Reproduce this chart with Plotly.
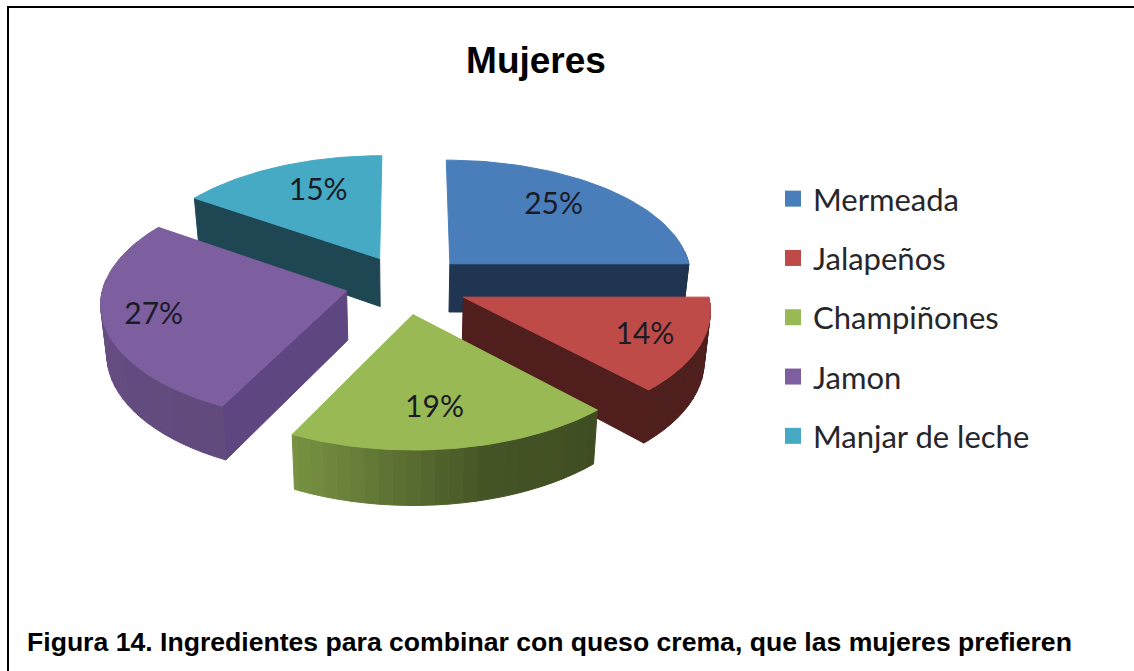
import numpy as np
import plotly.graph_objects as go

# --- data ---
categories = ["Mermeada", "Jalapeños", "Champiñones", "Jamon", "Manjar de leche"]
values = [25, 14, 19, 27, 15]
title_text = "Mujeres"
caption_text = "Figura 14. Ingredientes para combinar con queso crema, que las mujeres prefieren"

# --- styles ---
top_colors = ["#4A7EBB", "#BE4B48", "#98B954", "#7D5FA0", "#46AAC4"]
cut_colors = ["#1F3552", "#501E1D", "#3F4F22", "#5E4680", "#1E4653"]
legend_colors = ["#4A7EBB", "#BE4B48", "#98B954", "#7D5FA0", "#46AAC4"]
draw_order = [4, 0, 3, 1, 2]
label_nudge = [(0, -7), (32, 5), (5, 10), (-35, 9), (4, -4)]

# --- projection of the tilted, exploded pie ---
CX, CY, RX, RY, K, EXPLODE, DEPTH, SQUEEZE = 407, 284.4, 243, 116.9, 0.0927, 0.2535, 49, 0.98
WARP_IN = [0, 90, 140.4, 208.8, 306, 360]
WARP_OUT = [0, 90, 136.5, 206.5, 304.5, 360]


def warp(deg):
    return float(np.interp(deg, WARP_IN, WARP_OUT))


def project(px, py, low=False):
    s = 1 / (1 - K * py)
    x = RX * px * s
    y = CY + RY * py * s
    if low:
        return CX + x * SQUEEZE, y + DEPTH * s
    return CX + x, y


def unit(deg):
    a = np.radians(deg)
    return np.sin(a), -np.cos(a)


def shade(hex_color, f):
    c = [int(hex_color[i:i + 2], 16) for i in (1, 3, 5)]
    return "rgb(%d,%d,%d)" % tuple(int(v * f) for v in c)


def poly(points, color):
    xs, ys = zip(*points)
    return go.Scatter(x=list(xs) + [xs[0]], y=list(ys) + [ys[0]], mode="lines", fill="toself",
                      fillcolor=color, line=dict(color=color, width=1),
                      hoverinfo="skip", showlegend=False)


total = sum(values)
starts = np.cumsum([0] + values[:-1]) / total * 360
spans = np.array(values) / total * 360

fig = go.Figure()
for i in draw_order:
    raw0, raw1 = starts[i], starts[i] + spans[i]
    a0, a1 = warp(raw0), warp(raw1)
    bx, by = unit((raw0 + raw1) / 2)
    dx, dy = bx * EXPLODE, by * EXPLODE
    # cut faces that look towards the viewer
    faces = []
    if 180 < a0 < 360:
        faces.append(a0)
    if 0 < a1 < 180:
        faces.append(a1)
    for a in faces:
        ux, uy = unit(a)
        fig.add_trace(poly([project(dx, dy), project(dx + ux, dy + uy),
                            project(dx + ux, dy + uy, True), project(dx, dy, True)], cut_colors[i]))
    # outer wall, shaded strip by strip
    grid = np.arange(a0, a1 + 3, 3.0)
    grid[-1] = a1
    for g0, g1 in zip(grid[:-1], grid[1:]):
        mid = (g0 + g1) / 2
        if mid < 85 or mid > 275:
            continue
        f = float(np.interp(mid, [137, 207, 270], [0.42, 0.78, 0.82]))
        if i == 2:
            f = float(np.interp(mid, [137, 165, 207], [0.42, 0.46, 0.80]))
        ux0, uy0 = unit(g0)
        ux1, uy1 = unit(g1)
        fig.add_trace(poly([project(dx + ux0, dy + uy0), project(dx + ux1, dy + uy1),
                            project(dx + ux1, dy + uy1, True), project(dx + ux0, dy + uy0, True)],
                           shade(top_colors[i], f)))
    # top face
    arc = np.linspace(a0, a1, 60)
    pts = [project(dx, dy)] + [project(dx + unit(a)[0], dy + unit(a)[1]) for a in arc]
    fig.add_trace(poly(pts, top_colors[i]))

# percentage labels
lx, ly, lt = [], [], []
for i in range(len(values)):
    bx, by = unit(starts[i] + spans[i] / 2)
    x, y = project(bx * (EXPLODE + 0.65), by * (EXPLODE + 0.65))
    lx.append(x + label_nudge[i][0])
    ly.append(y + label_nudge[i][1])
    lt.append(f"{values[i]}%")
fig.add_trace(go.Scatter(x=lx, y=ly, text=lt, mode="text", textposition="middle center",
                         textfont=dict(family="Lato", size=30, color="#1B1B26"),
                         hoverinfo="skip", showlegend=False))

# legend entries
for c, col in zip(categories, legend_colors):
    fig.add_trace(go.Scatter(x=[None], y=[None], mode="markers", name=c, legendgroup=c,
                             marker=dict(symbol="square", size=16, color=col)))

fig.update_layout(
    width=1134, height=671, autosize=False,
    margin=dict(l=0, r=0, t=0, b=0),
    paper_bgcolor="white", plot_bgcolor="white",
    xaxis=dict(range=[0, 1134], visible=False, fixedrange=True),
    yaxis=dict(range=[671, 0], visible=False, fixedrange=True),
    title=dict(text=title_text, x=536 / 1134, xanchor="center", y=1 - 60 / 671, yanchor="middle",
               font=dict(family="Liberation Sans", size=37, color="black", weight="bold")),
    legend=dict(x=773 / 1134, xanchor="left", y=1 - 172 / 671, yanchor="top",
                tracegroupgap=16, bgcolor="rgba(0,0,0,0)",
                font=dict(family="Lato", size=31, color="#26262B")),
    shapes=[
        dict(type="line", xref="x", yref="y", x0=8, x1=8, y0=6, y1=671, line=dict(color="black", width=2)),
        dict(type="line", xref="x", yref="y", x0=7, x1=1134, y0=7, y1=7, line=dict(color="black", width=2)),
    ],
    annotations=[dict(text=caption_text, x=25 / 1134, xref="paper", xanchor="left", y=1 - 642 / 671,
                      yref="paper", yanchor="middle", showarrow=False,
                      font=dict(family="Liberation Sans", size=26.6, color="black", weight="bold"))],
)
fig.write_html("out.html", post_script="document.body.style.margin='0';", config={"displayModeBar": False})
